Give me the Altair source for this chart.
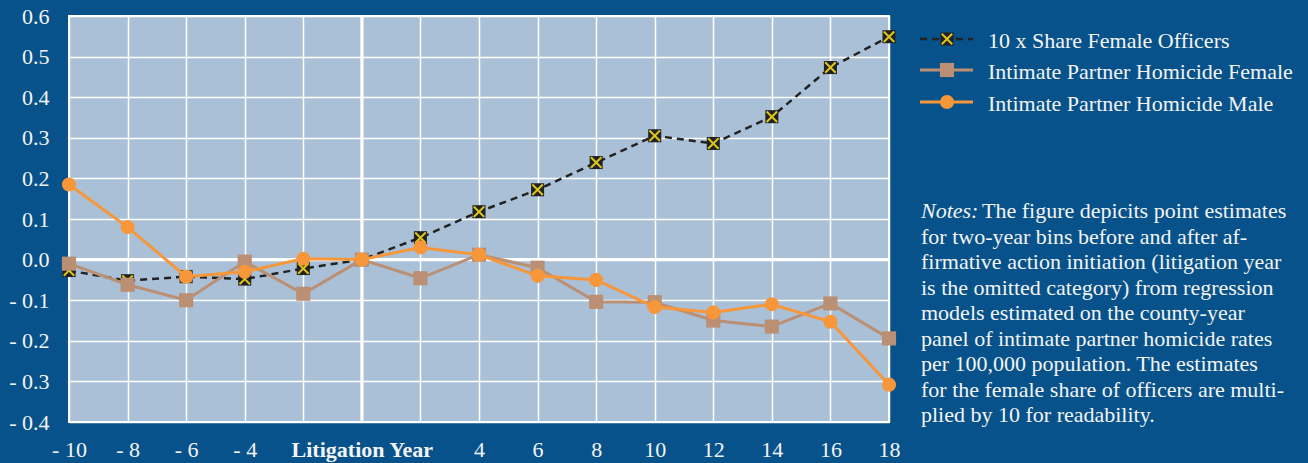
import altair as alt
import pandas as pd

years = [-10, -8, -6, -4, -2, 0, 2, 4, 6, 8, 10, 12, 14, 16, 18]
officers = [-0.027, -0.052, -0.042, -0.048, -0.022, 0.0, 0.054, 0.118, 0.172, 0.239, 0.305, 0.286, 0.352, 0.473, 0.549]
female = [-0.010, -0.062, -0.100, -0.005, -0.084, 0.0, -0.046, 0.012, -0.020, -0.104, -0.105, -0.150, -0.165, -0.108, -0.194]
male = [0.185, 0.080, -0.042, -0.030, 0.002, 0.0, 0.030, 0.012, -0.040, -0.050, -0.117, -0.130, -0.110, -0.153, -0.308]
y_ticks = [-0.4, -0.3, -0.2, -0.1, 0.0, 0.1, 0.2, 0.3, 0.4, 0.5, 0.6]

series_names = ["10 x Share Female Officers", "Intimate Partner Homicide Female", "Intimate Partner Homicide Male"]
notes_first = "The figure depicits point estimates"
notes_rest = [
    "for two-year bins before and after af-",
    "firmative action initiation (litigation year",
    "is the omitted category) from regression",
    "models estimated on the county-year",
    "panel of intimate partner homicide rates",
    "per 100,000 population. The estimates",
    "for the female share of officers are multi-",
    "plied by 10 for readability.",
]

BG = "#07528a"
PLOT = "#a9c0d7"
ORANGE = "#f7973a"
BROWN = "#bb8f73"
BLACK = "#222222"
YELLOW = "#dcc61a"
TXT = "#f4f4f4"
FONT = "Liberation Serif, Times New Roman, serif"

df_off = pd.DataFrame({"year": years, "value": officers})
df_fem = pd.DataFrame({"year": years, "value": female})
df_male = pd.DataFrame({"year": years, "value": male})
zero = pd.DataFrame({"year": [0], "value": [0.0]})
one = pd.DataFrame({"k": [0]})

X = alt.X(
    "year:Q",
    scale=alt.Scale(domain=[-10, 18], nice=False, zero=False),
    axis=alt.Axis(
        values=years,
        labelExpr="datum.value == 0 ? 'Litigation Year' : (datum.value == -2 || datum.value == 2) ? '' : (datum.value < 0 ? '- ' + abs(datum.value) : '' + datum.value)",
        labelFontWeight={"condition": {"test": "datum.value == 0", "value": "bold"}, "value": "normal"},
        labelPadding=17,
        labelFlush=False,
        labelOverlap=False,
        title=None,
    ),
)
Y = alt.Y(
    "value:Q",
    scale=alt.Scale(domain=[-0.4, 0.6], nice=False, zero=False),
    axis=alt.Axis(
        values=y_ticks,
        labelExpr="datum.value < -0.001 ? '- ' + format(abs(datum.value), '.1f') : format(abs(datum.value), '.1f')",
        labelPadding=20,
        labelFlush=False,
        labelOverlap=False,
        title=None,
    ),
)

vzero = alt.Chart(zero).mark_rule(color="white", strokeWidth=3).encode(x=X)
hzero = alt.Chart(zero).mark_rule(color="white", strokeWidth=3).encode(y=Y)

off_line = alt.Chart(df_off).mark_line(color=BLACK, strokeWidth=2.5, strokeDash=[7, 5]).encode(x=X, y=Y)
off_sq = alt.Chart(df_off).mark_point(shape="square", filled=True, color=BLACK, size=170, opacity=1).encode(x=X, y=Y)
off_x = alt.Chart(df_off).mark_point(shape="M-1,-1L1,1M1,-1L-1,1", filled=False, color=YELLOW, strokeWidth=2, size=110, opacity=1).encode(x=X, y=Y)

fem_line = alt.Chart(df_fem).mark_line(color=BROWN, strokeWidth=3).encode(x=X, y=Y)
fem_pt = alt.Chart(df_fem).mark_point(shape="square", filled=True, color=BROWN, size=200, opacity=1).encode(x=X, y=Y)

male_line = alt.Chart(df_male).mark_line(color=ORANGE, strokeWidth=3).encode(x=X, y=Y)
male_pt = alt.Chart(df_male).mark_point(shape="circle", filled=True, color=ORANGE, size=200, opacity=1).encode(x=X, y=Y)

# legend (positions relative to plot origin at 69,16)
LX1, LX2, LXM, LXT = 851, 904, 878, 919
rows_y = [23, 54, 86]
base_y = [32, 63, 95]

leg = []
leg.append(alt.Chart(one).mark_rule(color=BLACK, strokeWidth=2.5, strokeDash=[7, 5]).encode(x=alt.value(LX1), x2=alt.value(LX2), y=alt.value(rows_y[0])))
leg.append(alt.Chart(one).mark_point(shape="square", filled=True, color=BLACK, size=170, opacity=1).encode(x=alt.value(LXM), y=alt.value(rows_y[0])))
leg.append(alt.Chart(one).mark_point(shape="M-1,-1L1,1M1,-1L-1,1", filled=False, color=YELLOW, strokeWidth=2, size=110, opacity=1).encode(x=alt.value(LXM), y=alt.value(rows_y[0])))
leg.append(alt.Chart(one).mark_rule(color=BROWN, strokeWidth=3).encode(x=alt.value(LX1), x2=alt.value(LX2), y=alt.value(rows_y[1])))
leg.append(alt.Chart(one).mark_point(shape="square", filled=True, color=BROWN, size=200, opacity=1).encode(x=alt.value(LXM), y=alt.value(rows_y[1])))
leg.append(alt.Chart(one).mark_rule(color=ORANGE, strokeWidth=3).encode(x=alt.value(LX1), x2=alt.value(LX2), y=alt.value(rows_y[2])))
leg.append(alt.Chart(one).mark_point(shape="circle", filled=True, color=ORANGE, size=200, opacity=1).encode(x=alt.value(LXM), y=alt.value(rows_y[2])))
for name, by in zip(series_names, base_y):
    leg.append(
        alt.Chart(one).mark_text(text=name, font=FONT, fontSize=22, color=TXT, align="left", baseline="alphabetic").encode(x=alt.value(LXT), y=alt.value(by))
    )

NX = 852
notes = [
    alt.Chart(one).mark_text(text="Notes:", font=FONT, fontSize=22, fontStyle="italic", color=TXT, align="left", baseline="alphabetic").encode(x=alt.value(NX), y=alt.value(202)),
    alt.Chart(one).mark_text(text=notes_first, font=FONT, fontSize=22, color=TXT, align="left", baseline="alphabetic").encode(x=alt.value(NX + 61), y=alt.value(202)),
    alt.Chart(one).mark_text(text=notes_rest, font=FONT, fontSize=22, lineHeight=25.5, color=TXT, align="left", baseline="alphabetic").encode(x=alt.value(NX), y=alt.value(202 + 25.5)),
]

chart = alt.layer(
    vzero, hzero,
    off_line, off_sq, off_x,
    fem_line, fem_pt,
    male_line, male_pt,
    *leg, *notes,
).properties(
    width=820,
    height=406,
    autosize=alt.AutoSizeParams(type="none"),
    padding={"left": 69, "top": 16, "right": 419, "bottom": 41},
    background=BG,
).configure_view(
    fill=PLOT, stroke="white", strokeWidth=2
).configure_axis(
    grid=True, gridColor="white", gridWidth=1.5, gridOpacity=1,
    domain=False, ticks=False,
    labelColor=TXT, labelFont=FONT, labelFontSize=22,
)

chart.save("out.html", embed_options={"renderer": "svg", "actions": False})
